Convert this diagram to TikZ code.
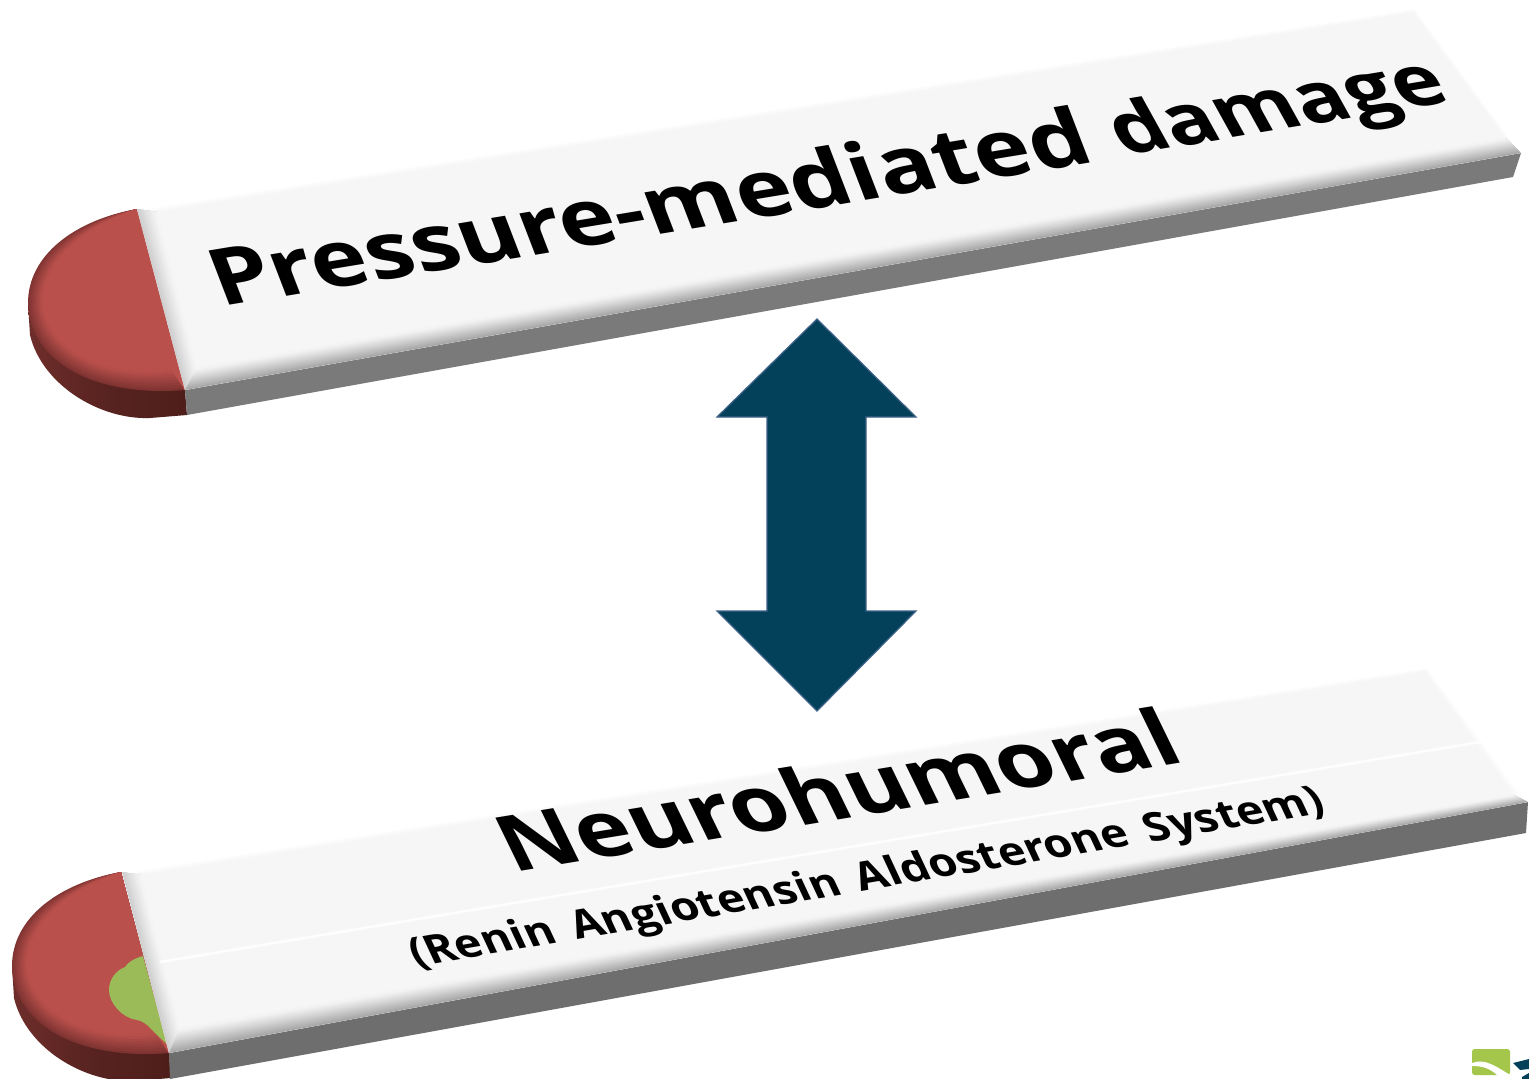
\documentclass[tikz,border=0pt]{standalone}
\usepackage{fontspec}
\setmainfont{Open Sans}
\newfontfamily\subfam[WordSpace=1.5]{Open Sans}
\usetikzlibrary{calc}
\definecolor{redhi}{HTML}{B9504C}
\definecolor{redlo}{HTML}{803432}
\definecolor{sideL}{HTML}{6E2E2B}
\definecolor{sideR}{HTML}{4E1E1B}
\definecolor{faceC}{HTML}{F6F6F6}
\definecolor{bevelD}{HTML}{A8A8A8}
\definecolor{bevelL}{HTML}{CFCFCF}
\definecolor{arrowC}{HTML}{03415A}
\definecolor{arrowE}{HTML}{3F6289}
\definecolor{greenC}{HTML}{9BBB59}
\definecolor{logoG}{HTML}{A4C64A}
\tikzset{
  px/.style={x=0.02cm,y=-0.02cm}
}
\newcommand{\titlef}{\fontsize{40}{48}\selectfont\bfseries}
\newcommand{\subf}{\subfam\fontsize{40}{48}\selectfont\bfseries}
\newcommand{\measure}[3]{%
  \setbox0=\hbox{#2\relax#3}%
  \expandafter\xdef\csname wd#1\endcsname{\the\wd0}%
}
\AtBeginDocument{%
  \measure{txtA}{\titlef}{Pressure-mediated}%
  \measure{txtB}{\titlef}{damage}%
  \measure{txtC}{\titlef}{Neurohumoral}%
  \measure{txtD}{\subf}{(Renin Angiotensin Aldosterone System)}%
}
% name, start x,y, end x,y (px), shear deg, cap length px, font, text
\newcommand{\slanted}[9]{%
  \pgfmathsetmacro\lw{\csname wd#1\endcsname}%
  \pgfmathsetmacro\lsa{(#4-#2)*0.56906/\lw}%
  \pgfmathsetmacro\lsb{-(#5-#3)*0.56906/\lw}%
  \pgfmathsetmacro\lsy{#7/(0.714*40/0.56906)}%
  \pgfmathsetmacro\lsc{-sin(#6)*\lsy}%
  \pgfmathsetmacro\lsd{cos(#6)*\lsy}%
  \begin{scope}[shift={(#2,#3)}]
    \node[transform shape,cm={\lsa,\lsb,\lsc,\lsd,(0,0)},anchor=base west,inner sep=0pt,font=#8,text=black] (#1) at (0,0) {#9};
  \end{scope}%
}
% red end cap, shifted in px
\newcommand{\redcap}[2]{%
  \begin{scope}[shift={(#1,#2)}]
    \coordinate (A) at (137,209);
    \coordinate (a1o) at (75,220); \coordinate (a2o) at (28,255); \coordinate (Lo) at (28,303);
    \coordinate (a1i) at (88,224); \coordinate (a2i) at (43,260); \coordinate (Li) at (43,303);
    \coordinate (b1o) at (28,355); \coordinate (b2o) at (85,398); \coordinate (Co) at (185,390);
    \coordinate (b1i) at (46,342); \coordinate (b2i) at (95,380); \coordinate (Ci) at (171,369);
    \shade[left color=sideL,right color=sideR,middle color=sideR!70!sideL]
      (28,303) -- (30,335) .. controls (42,385) and (100,420) .. (150,418) -- (187,415) -- (185,390) -- cycle;
    \foreach \t/\p in {0/0,0.12/14,0.25/28,0.37/42,0.5/56,0.62/70,0.75/84,0.87/94,1/100}{
      \fill[redhi!\p!redlo]
        (A) .. controls ($(a1o)!\t!(a1i)$) and ($(a2o)!\t!(a2i)$) .. ($(Lo)!\t!(Li)$)
        .. controls ($(b1o)!\t!(b1i)$) and ($(b2o)!\t!(b2i)$) .. ($(Co)!\t!(Ci)$)
        -- (Co) -- cycle;
    }
  \end{scope}%
}
% white plate from named coordinates
\newcommand{\plate}[1]{%
  \fill[#1] (FL) -- (R) -- (BR) -- (BL) -- cycle;
  \fill[white] (TL) -- (TR) -- (R) -- (FL) -- cycle;
  \foreach \t/\p in {0/0,0.25/25,0.5/50,0.75/75}{
    \fill[faceC!\p!white] ($(TL)!\t!(ITL)$) -- ($(TR)!\t!(ITR)$) -- (ITR) -- (ITL) -- cycle;
    \fill[faceC!\p!white] ($(TR)!\t!(ITR)$) -- ($(R)!\t!(IR)$) -- (IR) -- (ITR) -- cycle;
  }
  \foreach \t/\p in {0/0,0.07/8,0.14/16,0.21/24,0.28/32,0.35/40,0.42/48,0.49/56,0.56/64,0.63/72,0.7/79,0.77/86,0.84/92,0.92/97}{
    \fill[faceC!\p!bevelL] ($(TL)!\t!(ITL)$) -- ($(FL)!\t!(IFL)$) -- (IFL) -- (ITL) -- cycle;
    \fill[faceC!\p!bevelD] ($(FL)!\t!(IFL)$) -- ($(R)!\t!(IR)$) -- (IR) -- (IFL) -- cycle;
  }
  \fill[faceC] (ITL) -- (ITR) -- (IR) -- (IFL) -- cycle;
}
\begin{document}
\begin{tikzpicture}[px]
\useasboundingbox (0,0) rectangle (1529,1079);
\clip (0,0) rectangle (1529,1079);
\fill[white] (0,0) rectangle (1529,1079);

% upper plate
\coordinate (TL) at (137,209); \coordinate (ITL) at (157,212);
\coordinate (ITR) at (1413,13); \coordinate (TR) at (1415,8);
\coordinate (R) at (1521,153); \coordinate (IR) at (1505,138);
\coordinate (BR) at (1513,177); \coordinate (BL) at (187,415);
\coordinate (FL) at (185,390); \coordinate (IFL) at (197,368);
\redcap{0}{0}
\plate{black!52}
\slanted{txtA}{221}{307}{1097}{162}{21}{58}{\titlef}{Pressure-mediated}
\slanted{txtB}{1124}{156}{1453}{101}{29}{55}{\titlef}{damage}

% lower plate
\coordinate (TL) at (122,872); \coordinate (ITL) at (141,875);
\coordinate (ITR) at (1425,672); \coordinate (TR) at (1427,667);
\coordinate (R) at (1528,802); \coordinate (IR) at (1513,795);
\coordinate (BR) at (1526,833); \coordinate (BL) at (170,1079);
\coordinate (FL) at (169,1053); \coordinate (IFL) at (180,1028);
\redcap{-16}{663}
\fill[greenC] (143,956) .. controls (135,958) and (128,962) .. (125,967)
  .. controls (115,971) and (109,980) .. (109,990)
  .. controls (109,1003) and (122,1018) .. (137,1020)
  .. controls (148,1022) and (152,1032) .. (167,1044) -- cycle;
\plate{black!57}
\coordinate (LN1) at (160,962); \coordinate (LN2) at (1480,742);
\draw[white,line width=1.6pt,opacity=.85] (LN1) -- (LN2);
\slanted{txtC}{513}{873}{1187}{762}{26}{59}{\titlef}{Neurohumoral}
\slanted{txtD}{416}{967}{1328}{812}{25}{30}{\subf}{(Renin Angiotensin Aldosterone System)}

% double arrow
\filldraw[fill=arrowC,draw=arrowE,line width=.7pt,line join=miter]
  (817,319) -- (916,417) -- (866,417) -- (866,611) -- (916,611) -- (817,711)
  -- (717,611) -- (767,611) -- (767,417) -- (717,417) -- cycle;

% logo corner
\fill[logoG,rounded corners=1.5pt] (1472,1049) rectangle (1510,1075);
\fill[white] (1472,1063) .. controls (1485,1058) and (1495,1066) .. (1512,1076)
  -- (1498,1076) .. controls (1490,1068) and (1482,1066) .. (1472,1066) -- cycle;
\fill[arrowC] (1513,1063) -- (1529,1059) -- (1529,1069) -- (1520,1070) -- cycle;
\fill[arrowC] (1522,1077) -- (1529,1073) -- (1529,1079) -- (1522,1079) -- cycle;
\end{tikzpicture}
\end{document}
